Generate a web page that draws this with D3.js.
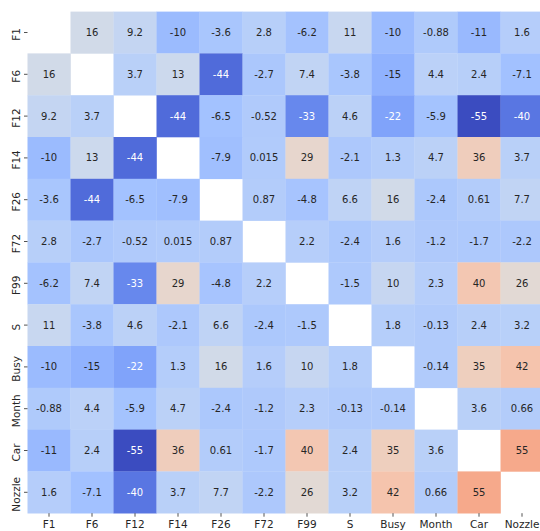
<!DOCTYPE html>
<html>
<head>
<meta charset="utf-8">
<script src="https://cdn.jsdelivr.net/npm/d3@7"></script>
<style>
  html, body { margin: 0; padding: 0; background: #fff; }
  svg { display: block; }
  text { font-family: "DejaVu Sans", sans-serif; }
</style>
</head>
<body>
<svg id="chart" width="540" height="531"></svg>
<script>
// Variable names, in row / column order
const variables = ["F1", "F6", "F12", "F14", "F26", "F72", "F99", "S", "Busy", "Month", "Car", "Nozzle"];

// One row of the matrix per variable (null = diagonal, left blank)
const rowF1     = [null, 16, 9.2, -10, -3.6, 2.8, -6.2, 11, -10, -0.88, -11, 1.6];
const rowF6     = [16, null, 3.7, 13, -44, -2.7, 7.4, -3.8, -15, 4.4, 2.4, -7.1];
const rowF12    = [9.2, 3.7, null, -44, -6.5, -0.52, -33, 4.6, -22, -5.9, -55, -40];
const rowF14    = [-10, 13, -44, null, -7.9, 0.015, 29, -2.1, 1.3, 4.7, 36, 3.7];
const rowF26    = [-3.6, -44, -6.5, -7.9, null, 0.87, -4.8, 6.6, 16, -2.4, 0.61, 7.7];
const rowF72    = [2.8, -2.7, -0.52, 0.015, 0.87, null, 2.2, -2.4, 1.6, -1.2, -1.7, -2.2];
const rowF99    = [-6.2, 7.4, -33, 29, -4.8, 2.2, null, -1.5, 10, 2.3, 40, 26];
const rowS      = [11, -3.8, 4.6, -2.1, 6.6, -2.4, -1.5, null, 1.8, -0.13, 2.4, 3.2];
const rowBusy   = [-10, -15, -22, 1.3, 16, 1.6, 10, 1.8, null, -0.14, 35, 42];
const rowMonth  = [-0.88, 4.4, -5.9, 4.7, -2.4, -1.2, 2.3, -0.13, -0.14, null, 3.6, 0.66];
const rowCar    = [-11, 2.4, -55, 36, 0.61, -1.7, 40, 2.4, 35, 3.6, null, 55];
const rowNozzle = [1.6, -7.1, -40, 3.7, 7.7, -2.2, 26, 3.2, 42, 0.66, 55, null];

const matrix = [rowF1, rowF6, rowF12, rowF14, rowF26, rowF72, rowF99, rowS, rowBusy, rowMonth, rowCar, rowNozzle];

// Colour limits: minimum of the matrix to the (masked) diagonal value
const colorMin = -55;
const colorMax = 100;

// Cool-warm diverging palette stops
const coolwarmStops = [
  [0.2298, 0.2987, 0.7537], [0.3039, 0.4065, 0.8450], [0.3830, 0.5094, 0.9174],
  [0.4667, 0.6046, 0.9682], [0.5530, 0.6889, 0.9954], [0.6392, 0.7596, 0.9982],
  [0.7222, 0.8140, 0.9766], [0.7987, 0.8498, 0.9317], [0.8654, 0.8654, 0.8654],
  [0.9241, 0.8274, 0.7745], [0.9589, 0.7698, 0.6780], [0.9700, 0.6943, 0.5794],
  [0.9580, 0.6028, 0.4818], [0.9239, 0.4973, 0.3880], [0.8692, 0.3783, 0.3003],
  [0.7956, 0.2413, 0.2205], [0.7057, 0.0156, 0.1502]
].map(c => d3.rgb(c[0] * 255, c[1] * 255, c[2] * 255));
const coolwarm = d3.piecewise(d3.interpolateRgb, coolwarmStops);

const color = d3.scaleSequential(coolwarm).domain([colorMin, colorMax]);

const margin = { left: 27.5, top: 11.6 };
const plotW = 516, plotH = 501.6;

const x = d3.scaleBand().domain(variables).range([margin.left, margin.left + plotW]);
const y = d3.scaleBand().domain(variables).range([margin.top, margin.top + plotH]);

const svg = d3.select("#chart");

const cells = [];
matrix.forEach((row, i) => row.forEach((v, j) => cells.push({ r: variables[i], c: variables[j], v })));

const fmt = d3.formatLocale({ decimal: ".", thousands: ",", grouping: [3], currency: ["", ""], minus: "-" }).format(".2g");

// Relative luminance, used to pick light or dark annotation text
function luminance(c) {
  const lin = u => { u /= 255; return u <= 0.03928 ? u / 12.92 : Math.pow((u + 0.055) / 1.055, 2.4); };
  return 0.2126 * lin(c.r) + 0.7152 * lin(c.g) + 0.0722 * lin(c.b);
}

const filled = cells.filter(d => d.v !== null);

svg.append("g").selectAll("rect")
  .data(filled)
  .join("rect")
  .attr("x", d => x(d.c))
  .attr("y", d => y(d.r))
  .attr("width", x.bandwidth() + 0.3)
  .attr("height", y.bandwidth() + 0.3)
  .attr("fill", d => color(d.v));

svg.append("g").selectAll("text")
  .data(filled)
  .join("text")
  .attr("x", d => x(d.c) + x.bandwidth() / 2)
  .attr("y", d => y(d.r) + y.bandwidth() / 2)
  .attr("text-anchor", "middle")
  .attr("dominant-baseline", "central")
  .attr("font-size", 10)
  .attr("fill", d => luminance(d3.rgb(color(d.v))) > 0.408 ? "#262626" : "#ffffff")
  .text(d => fmt(d.v));

// Bottom axis
const xAxis = svg.append("g")
  .attr("transform", `translate(0,${margin.top + plotH})`)
  .call(d3.axisBottom(x).tickSize(3.5).tickPadding(4));
xAxis.select(".domain").remove();
xAxis.selectAll(".tick line").attr("stroke", "#262626").attr("stroke-width", 0.8);
xAxis.selectAll(".tick text")
  .attr("font-size", 10.5)
  .attr("fill", "#262626")
  .attr("font-family", "DejaVu Sans, sans-serif");

// Left axis with rotated labels
const yAxis = svg.append("g")
  .attr("transform", `translate(${margin.left},0)`)
  .call(d3.axisLeft(y).tickSize(3.5).tickPadding(4));
yAxis.select(".domain").remove();
yAxis.selectAll(".tick line").attr("stroke", "#262626").attr("stroke-width", 0.8);
yAxis.selectAll(".tick text")
  .attr("font-size", 10.5)
  .attr("fill", "#262626")
  .attr("font-family", "DejaVu Sans, sans-serif")
  .attr("x", null)
  .attr("dy", null)
  .attr("text-anchor", "middle")
  .attr("transform", "translate(-8,2) rotate(-90)")
  .attr("dominant-baseline", "auto");
</script>
</body>
</html>
